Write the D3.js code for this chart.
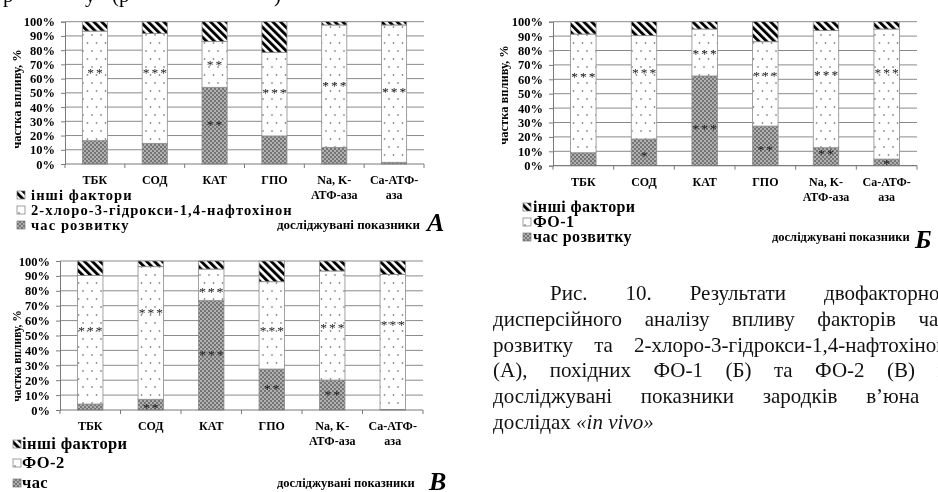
<!DOCTYPE html>
<html><head><meta charset="utf-8">
<script src="https://cdn.jsdelivr.net/npm/d3@7"></script>
<style>
html,body{margin:0;padding:0;background:#fff;width:938px;height:492px;overflow:hidden;position:relative;}
svg{position:absolute;left:0;top:0;will-change:transform;}
svg text{font-family:"Liberation Serif","Tinos","Times New Roman","DejaVu Serif",serif;}
</style></head>
<body>
<svg id="chart" width="938" height="492"></svg>
<script>
// ---------------- data ----------------
const categories = ["ТБК","СОД","КАТ","ГПО","Na, K-АТФ-аза","Ca-АТФ-аза"];
const categoryLines = [["ТБК"],["СОД"],["КАТ"],["ГПО"],["Na, K-","АТФ-аза"],["Ca-АТФ-","аза"]];
const yTicks = [0,10,20,30,40,50,60,70,80,90,100];

const seriesNamesA = ["інші фактори","2-хлоро-3-гідрокси-1,4-нафтохінон","час розвитку"];
const seriesNamesB = ["інші фактори","ФО-1","час розвитку"];
const seriesNamesC = ["інші фактори","ФО-2","час"];

// panel A
const timeA   = [16.4, 14.5, 53.9, 19.7, 11.7, 1.2];
const factorA = [77.0, 77.3, 32.1, 58.8, 86.0, 96.5];
const otherA  = [6.6, 8.2, 14.0, 21.5, 2.3, 2.3];
const factorSigA = ["**","***","**","***","***","***"];
const factorSigAtA = [65, 65, 70.5, 50.5, 55.5, 51];
const timeSigA = ["","","**","","",""];
const timeSigAtA = [0, 0, 28, 0, 0, 0];

// panel Б
const timeB   = [9.0, 18.5, 62.3, 27.5, 12.5, 4.6];
const factorB = [82.4, 71.8, 32.6, 58.6, 81.3, 90.3];
const otherB  = [8.6, 9.7, 5.1, 13.9, 6.2, 5.1];
const factorSigB = ["***","***","***","***","***","***"];
const factorSigAtB = [62.3, 64.8, 78, 63, 64, 64.8];
const timeSigB = ["","*","***","**","**","*"];
const timeSigAtB = [0, 7.4, 26.4, 11.6, 8.6, 1.6];

// panel В
const timeC   = [4.0, 7.2, 73.4, 27.5, 20.1, 0.4];
const factorC = [86.2, 89.0, 21.2, 58.6, 73.2, 90.6];
const otherC  = [9.8, 3.8, 5.4, 13.9, 6.7, 9.0];
const factorSigC = ["***","***","***","***","***","***"];
const factorSigAtC = [54, 65.5, 80, 54, 56, 57.7];
const timeSigC = ["","**","***","**","**",""];
const timeSigAtC = [0, 2.2, 37.6, 14.5, 10.7, 0];

const axisTitle = "частка впливу, %";
const xTitle = "досліджувані показники";
const captionLines = [
  "Рис. 10. Результати двофакторного",
  "дисперсійного аналізу впливу факторів часу",
  "розвитку та 2-хлоро-3-гідрокси-1,4-нафтохінону",
  "(А), похідних ФО-1 (Б) та ФО-2 (В) на",
  "досліджувані показники зародків в’юна в",
  "дослідах _«in _vivo»"
];

// ---------------- drawing ----------------
const svg = d3.select("#chart");
const defs = svg.append("defs");

const pt = defs.append("pattern").attr("id","pTime").attr("width",4).attr("height",4).attr("patternUnits","userSpaceOnUse");
pt.append("rect").attr("width",4).attr("height",4).attr("fill","#8a8a8a");
[[1,1],[3,3]].forEach(d=>pt.append("rect").attr("x",d[0]-0.7).attr("y",d[1]-0.7).attr("width",1.4).attr("height",1.4).attr("fill","#d8d8d8"));
[[3,1],[1,3]].forEach(d=>pt.append("rect").attr("x",d[0]-0.6).attr("y",d[1]-0.6).attr("width",1.2).attr("height",1.2).attr("fill","#505050"));

const pd = defs.append("pattern").attr("id","pDots").attr("width",9).attr("height",16).attr("patternUnits","userSpaceOnUse");
pd.append("rect").attr("width",9).attr("height",16).attr("fill","#fff");
[[2,3],[6.5,11]].forEach(d=>pd.append("rect").attr("x",d[0]-0.7).attr("y",d[1]-0.7).attr("width",1.4).attr("height",1.4).attr("fill","#6a6a6a"));

const ps = defs.append("pattern").attr("id","pStripe").attr("width",5.5).attr("height",5.5)
  .attr("patternUnits","userSpaceOnUse").attr("patternTransform","rotate(-45)");
ps.append("rect").attr("width",5.5).attr("height",5.5).attr("fill","#fff");
ps.append("rect").attr("width",2.9).attr("height",5.5).attr("fill","#000");

const fills = {time:"url(#pTime)", factor:"url(#pDots)", other:"url(#pStripe)"};

function drawPanel(cfg){
  const g = svg.append("g");
  const x = d3.scaleBand().domain(categories).range([cfg.left, cfg.right]).paddingInner(0.58).paddingOuter(0.29);
  const y = d3.scaleLinear().domain([0,100]).range([cfg.bottom, cfg.top]);

  g.append("g").selectAll("line").data(yTicks.slice(1)).join("line")
    .attr("x1",cfg.left).attr("x2",cfg.right).attr("y1",d=>y(d)).attr("y2",d=>y(d))
    .attr("stroke","#8a8a8a").attr("stroke-width",1);

  const ya = g.append("g").attr("transform",`translate(${cfg.left},0)`)
    .call(d3.axisLeft(y).tickValues(yTicks).tickFormat(d=>d+"%").tickSize(4).tickPadding(6));
  ya.attr("font-family",null);
  ya.select(".domain").attr("stroke","#7a7a7a");
  ya.selectAll(".tick line").attr("stroke","#7a7a7a");
  ya.selectAll("text").attr("font-weight","bold").attr("font-size",12.5).attr("fill","#000");

  const rows = categories.map((c,i)=>({cat:c, time:cfg.time[i], factor:cfg.factor[i], other:cfg.other[i]}));
  const stack = d3.stack().keys(["time","factor","other"])(rows);
  stack.forEach(s=>{
    g.append("g").selectAll("rect").data(s).join("rect")
      .attr("x",d=>x(d.data.cat)).attr("width",x.bandwidth())
      .attr("y",d=>y(d[1])).attr("height",d=>y(d[0])-y(d[1]))
      .attr("fill",fills[s.key]).attr("stroke","#8a8a8a").attr("stroke-width",0.8);
  });

  const xa = g.append("g");
  xa.append("line").attr("x1",cfg.left).attr("x2",cfg.right).attr("y1",y(0)).attr("y2",y(0))
    .attr("stroke","#7a7a7a").attr("stroke-width",1.2);
  const bounds = d3.range(categories.length+1).map(i=>cfg.left + i*x.step());
  xa.selectAll("line.tk").data(bounds).join("line").attr("class","tk")
    .attr("x1",d=>d).attr("x2",d=>d).attr("y1",y(0)).attr("y2",y(0)+4).attr("stroke","#7a7a7a");

  const sig = (texts, at) => g.append("g").selectAll("text").data(categories.filter((c,i)=>texts[i]))
    .join("text").attr("x",c=>x(c)+x.bandwidth()/2+1)
    .attr("y",c=>y(at[categories.indexOf(c)])+5)
    .attr("text-anchor","middle").attr("font-size",13.5).attr("letter-spacing",2)
    .attr("fill","#1a1a1a").text(c=>texts[categories.indexOf(c)]);
  sig(cfg.factorSig, cfg.factorSigAt);
  sig(cfg.timeSig, cfg.timeSigAt);

  const cl = g.append("g").selectAll("text").data(categories).join("text")
    .attr("text-anchor","middle").attr("font-weight","bold").attr("font-size",12).attr("fill","#000");
  cl.each(function(c,i){
    const t = d3.select(this);
    categoryLines[i].forEach((ln,k)=>t.append("tspan").attr("x",x(c)+x.bandwidth()/2).attr("y",cfg.bottom+20+k*15).text(ln));
  });

  g.append("text").attr("transform",`translate(${cfg.titleX},${cfg.titleY}) rotate(-90)`)
    .attr("text-anchor","middle").attr("font-weight","bold").attr("font-size",cfg.titleFont)
    .text(axisTitle);

  const keys = ["other","factor","time"];
  const lg = g.append("g").selectAll("g").data(keys).join("g")
    .attr("transform",(d,i)=>`translate(${cfg.legX},${cfg.legY[i]})`);
  lg.append("rect").attr("x",0).attr("y",-4).attr("width",8).attr("height",8)
    .attr("fill",d=>fills[d]).attr("stroke","#777").attr("stroke-width",0.7);
  lg.append("text").attr("x",cfg.legTextDx).attr("y",5).attr("font-weight","bold")
    .attr("font-size",cfg.legFont).attr("letter-spacing",cfg.legSpacing).attr("fill","#000").text((d,i)=>cfg.names[i]);

  g.append("text").attr("x",cfg.xtX).attr("y",cfg.xtY).attr("font-weight","bold")
    .attr("font-size",cfg.xtFont).attr("fill","#000").text(xTitle);
  g.append("text").attr("x",cfg.letX).attr("y",cfg.letY).attr("font-weight","bold")
    .attr("font-style","italic").attr("font-size",26).attr("fill","#000").text(cfg.letter);
}

drawPanel({left:65,right:424,top:21.7,bottom:164,time:timeA,factor:factorA,other:otherA,
  factorSig:factorSigA,factorSigAt:factorSigAtA,timeSig:timeSigA,timeSigAt:timeSigAtA,
  titleX:21,titleY:99,titleFont:12.5,names:seriesNamesA,legX:17,legY:[195,210,225],legTextDx:14,legFont:14.5,legSpacing:1.1,
  xtX:277,xtY:229,xtFont:13,letX:427,letY:231,letter:"A"});
drawPanel({left:553,right:917,top:21.7,bottom:165.7,time:timeB,factor:factorB,other:otherB,
  factorSig:factorSigB,factorSigAt:factorSigAtB,timeSig:timeSigB,timeSigAt:timeSigAtB,
  titleX:508,titleY:95,titleFont:12.5,names:seriesNamesB,legX:523,legY:[207,222,237],legTextDx:10,legFont:16,legSpacing:0.4,
  xtX:772,xtY:241,xtFont:12.5,letX:915,letY:248,letter:"Б"});
drawPanel({left:60,right:423,top:261,bottom:410,time:timeC,factor:factorC,other:otherC,
  factorSig:factorSigC,factorSigAt:factorSigAtC,timeSig:timeSigC,timeSigAt:timeSigAtC,
  titleX:21,titleY:356,titleFont:11.5,names:seriesNamesC,legX:13,legY:[444,463,483],legTextDx:9,legFont:16.5,legSpacing:0.4,
  xtX:277,xtY:487,xtFont:12.5,letX:429,letY:490,letter:"В"});

// fragments of the preceding text line cut at the top edge
const topFragments = [["р",3],["у",85],["(р",112],[")",274]];
svg.append("g").selectAll("text").data(topFragments).join("text")
  .attr("x",d=>d[1]).attr("y",2).attr("font-size",21).text(d=>d[0]);

// caption, justified word by word
const capX = 493, capW = 465, capY0 = 300, capLH = 25.8, capIndent = 57, capFont = 21;
const cap = svg.append("g").attr("font-size",capFont).attr("fill","#111");
captionLines.forEach((line,li)=>{
  const words = line.split(" ");
  const y0 = capY0 + li*capLH;
  const nodes = words.map(w=>{
    const italic = w.startsWith("_");
    return cap.append("text").attr("y",y0).attr("font-style",italic?"italic":null).text(italic?w.slice(1):w);
  });
  const widths = nodes.map(n=>n.node().getComputedTextLength());
  const start = capX + (li===0?capIndent:0);
  const last = li===captionLines.length-1;
  const space = capFont*0.25;
  const gap = last ? space : (capX+capW-start-d3.sum(widths))/(words.length-1);
  let xx = start;
  nodes.forEach((n,i)=>{ n.attr("x",xx); xx += widths[i] + gap; });
});
</script>
</body></html>
